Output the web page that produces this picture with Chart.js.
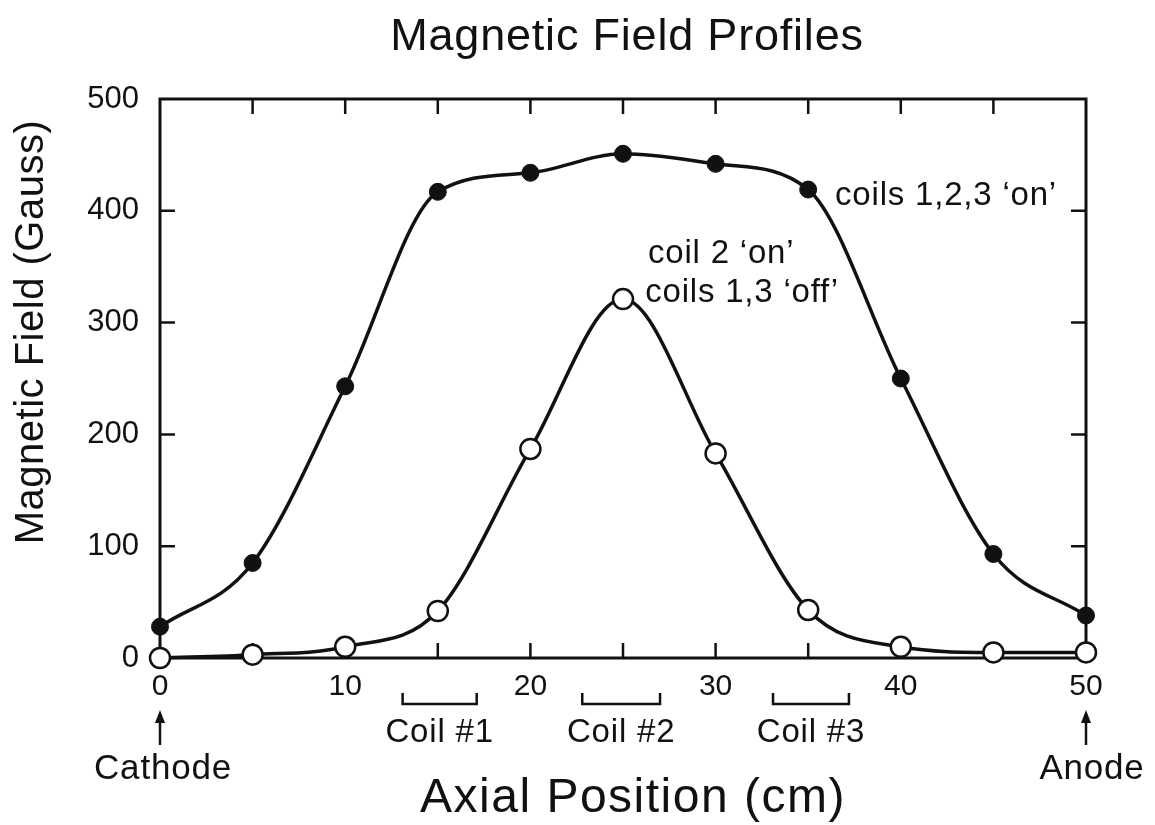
<!DOCTYPE html>
<html>
<head>
<meta charset="utf-8">
<title>Magnetic Field Profiles</title>
<script src="https://cdn.jsdelivr.net/npm/chart.js@4.4.1/dist/chart.umd.min.js"></script>
<style>
  html, body { margin: 0; padding: 0; background: #fff; }
  #wrap { width: 1155px; height: 825px; position: relative; }
</style>
</head>
<body>
<div id="wrap"><canvas id="chartField"></canvas></div>
<script>
// ---- data ----
const axialPos = [0, 5, 10, 15, 20, 25, 30, 35, 40, 45, 50];          // cm
const allCoilsOn = [28, 85, 243, 417, 434, 451, 442, 419, 250, 93, 38]; // Gauss
const coil2Only = [0, 3, 10, 42, 187, 321, 183, 43, 10, 5, 5];          // Gauss
const coilNames = ["Coil #1", "Coil #2", "Coil #3"];
const coilStart = [13.1, 22.8, 33.1];  // cm
const coilEnd = [17.1, 27.0, 37.2];    // cm

(function () {
  const INK = "#111";
  const FONT = "'Liberation Sans', Arial, Helvetica, sans-serif";
  Chart.defaults.font.family = FONT;
  Chart.defaults.color = INK;

  function txt(ctx, s, x, y, size, align, spacing) {
    ctx.font = size + "px " + FONT;
    ctx.letterSpacing = (spacing || 0) + "px";
    ctx.textAlign = align || "center";
    ctx.textBaseline = "alphabetic";
    ctx.fillText(s, x, y);
    ctx.letterSpacing = "0px";
  }

  // frame, inward ticks, titles and the hand-lettered notes
  const decor = {
    id: "decor",
    beforeDatasetsDraw(chart) {
      const { ctx, chartArea: a, scales: { x, y } } = chart;
      ctx.save();
      ctx.strokeStyle = INK;
      ctx.lineWidth = 3;
      ctx.strokeRect(a.left, a.top, a.right - a.left, a.bottom - a.top);
      ctx.lineWidth = 2.5;
      ctx.beginPath();
      x.ticks.forEach((t) => {
        if (t.value <= x.min || t.value >= x.max) return;
        const px = x.getPixelForValue(t.value);
        ctx.moveTo(px, a.bottom); ctx.lineTo(px, a.bottom - 15);
        ctx.moveTo(px, a.top); ctx.lineTo(px, a.top + 15);
      });
      y.ticks.forEach((t) => {
        if (t.value <= y.min || t.value >= y.max) return;
        const py = y.getPixelForValue(t.value);
        ctx.moveTo(a.left, py); ctx.lineTo(a.left + 15, py);
        ctx.moveTo(a.right, py); ctx.lineTo(a.right - 15, py);
      });
      ctx.stroke();
      ctx.restore();
    },
    afterDraw(chart) {
      const { ctx, chartArea: a, scales: { x, y } } = chart;
      ctx.save();
      ctx.fillStyle = INK;
      ctx.strokeStyle = INK;

      txt(ctx, "Magnetic Field Profiles", 627, 50, 45, "center", 0.8);
      txt(ctx, "Axial Position (cm)", 633, 812, 48, "center", 1.5);

      ctx.save();
      ctx.translate(43, 332);
      ctx.rotate(-Math.PI / 2);
      txt(ctx, "Magnetic Field (Gauss)", 0, 0, 40, "center", 0.5);
      ctx.restore();

      // curve labels
      txt(ctx, "coils 1,2,3 \u2018on\u2019", x.getPixelForValue(36.45), y.getPixelForValue(405), 33, "left", 0.8);
      txt(ctx, "coil 2 \u2018on\u2019", x.getPixelForValue(26.35), y.getPixelForValue(353), 33, "left", 0.8);
      txt(ctx, "coils 1,3 \u2018off\u2019", x.getPixelForValue(26.2), y.getPixelForValue(318), 33, "left", 0.8);

      // coil brackets under the axis
      ctx.lineWidth = 2.5;
      coilNames.forEach((name, i) => {
        const x0 = x.getPixelForValue(coilStart[i]);
        const x1 = x.getPixelForValue(coilEnd[i]);
        ctx.beginPath();
        ctx.moveTo(x0, a.bottom + 35);
        ctx.lineTo(x0, a.bottom + 46);
        ctx.lineTo(x1, a.bottom + 46);
        ctx.lineTo(x1, a.bottom + 35);
        ctx.stroke();
        txt(ctx, name, (x0 + x1) / 2, a.bottom + 84, 33, "center", 0.8);
      });

      // cathode / anode arrows
      [[x.min, "Cathode", 3], [x.max, "Anode", 6]].forEach(([v, label, dx]) => {
        const px = x.getPixelForValue(v);
        ctx.lineWidth = 2.5;
        ctx.beginPath();
        ctx.moveTo(px, a.bottom + 87);
        ctx.lineTo(px, a.bottom + 62);
        ctx.stroke();
        ctx.beginPath();
        ctx.moveTo(px, a.bottom + 52);
        ctx.lineTo(px - 5, a.bottom + 65);
        ctx.lineTo(px + 5, a.bottom + 65);
        ctx.closePath();
        ctx.fill();
        txt(ctx, label, px + dx, a.bottom + 121, 35, "center", 0.8);
      });
      ctx.restore();
    },
  };

  new Chart(document.getElementById("chartField"), {
    type: "line",
    data: {
      labels: axialPos,
      datasets: [
        {
          label: "coils 1,2,3 'on'",
          data: axialPos.map((p, i) => ({ x: p, y: allCoilsOn[i] })),
          borderColor: INK,
          borderWidth: 3.5,
          cubicInterpolationMode: "monotone",
          pointRadius: 8.5,
          pointBackgroundColor: INK,
          pointBorderColor: INK,
          pointBorderWidth: 1,
          clip: false,
        },
        {
          label: "coil 2 'on', coils 1,3 'off'",
          data: axialPos.map((p, i) => ({ x: p, y: coil2Only[i] })),
          borderColor: INK,
          borderWidth: 3.5,
          cubicInterpolationMode: "monotone",
          pointRadius: 10,
          pointBackgroundColor: "#fff",
          pointBorderColor: INK,
          pointBorderWidth: 2.5,
          clip: false,
        },
      ],
    },
    options: {
      responsive: true,
      maintainAspectRatio: false,
      animation: false,
      layout: { padding: { left: 0, right: 69, top: 99, bottom: 0 } },
      scales: {
        x: {
          type: "linear",
          min: 0, max: 50,
          grid: { display: false, drawTicks: false },
          border: { display: false },
          afterFit: (s) => { s.height = 167; },
          ticks: {
            stepSize: 5,
            autoSkip: false,
            maxRotation: 0,
            padding: 11,
            font: { size: 30 },
            callback: (v) => (v % 10 === 0 ? String(v) : ""),
          },
        },
        y: {
          min: 0, max: 500,
          grid: { display: false, drawTicks: false },
          border: { display: false },
          afterFit: (s) => { s.width = 160; },
          ticks: { stepSize: 100, padding: 21, font: { size: 31 } },
        },
      },
      plugins: {
        legend: { display: false },
        title: { display: false },
        tooltip: { enabled: false },
      },
    },
    plugins: [decor],
  });
})();
</script>
</body>
</html>
